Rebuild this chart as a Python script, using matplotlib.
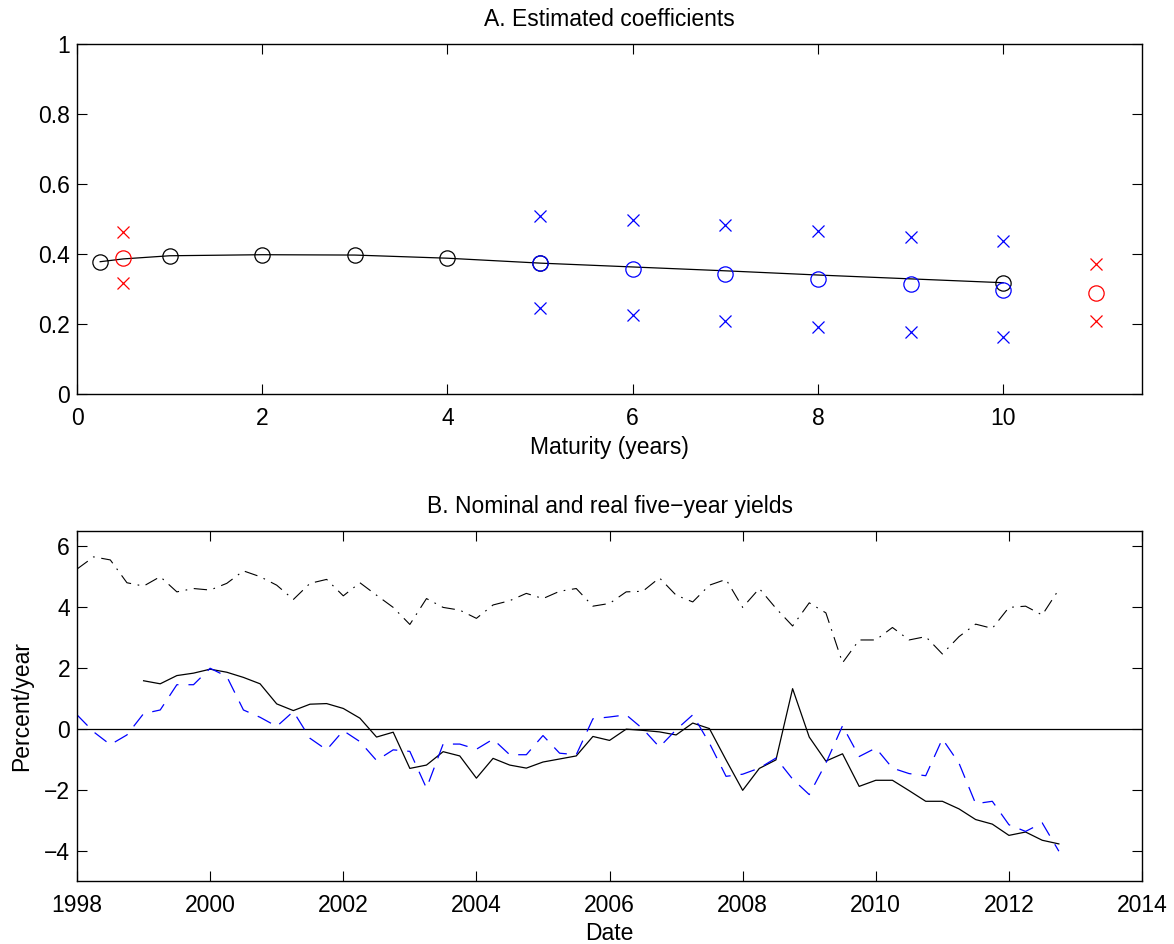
import numpy as np
import matplotlib
matplotlib.use("Agg")
import matplotlib.pyplot as plt

plt.rcParams['font.family'] = ['Liberation Sans', 'DejaVu Sans']
plt.rcParams['font.size'] = 16.5
plt.rcParams['axes.linewidth'] = 1.0
plt.rcParams['axes.unicode_minus'] = True

# Panel A: estimated coefficients by maturity
fit_maturity = [0.25, 0.5, 1, 2, 3, 4, 5, 6, 7, 8, 9, 10]
fit_coef = [0.378, 0.386, 0.395, 0.398, 0.397, 0.388, 0.374, 0.363, 0.352, 0.340, 0.329, 0.318]

black_maturity = [0.25, 1, 2, 3, 4, 5, 10]
black_coef = [0.378, 0.395, 0.398, 0.397, 0.388, 0.374, 0.317]

blue_maturity = [5, 6, 7, 8, 9, 10]
blue_coef = [0.374, 0.357, 0.343, 0.329, 0.314, 0.297]
blue_upper = [0.509, 0.497, 0.483, 0.466, 0.449, 0.437]
blue_lower = [0.246, 0.226, 0.209, 0.191, 0.177, 0.163]

red_maturity = [0.5, 11]
red_coef = [0.389, 0.289]
red_upper = [0.463, 0.371]
red_lower = [0.317, 0.209]

# Panel B: quarterly yields, percent/year
nominal_start = 1998.0
nominal = [5.25, 5.65, 5.55, 4.80,
           4.69, 5.00, 4.50, 4.61,
           4.56, 4.78, 5.19, 5.00,
           4.72, 4.25, 4.78, 4.91,
           4.37, 4.80, 4.39, 3.99,
           3.43, 4.28, 3.99, 3.90,
           3.63, 4.07, 4.21, 4.45,
           4.28, 4.52, 4.61, 4.03,
           4.12, 4.50, 4.52, 4.96,
           4.39, 4.17, 4.72, 4.91,
           3.99, 4.61, 3.96, 3.38,
           4.14, 3.81, 2.17, 2.92,
           2.92, 3.33, 2.92, 3.03,
           2.46, 3.03, 3.44, 3.30,
           3.99, 4.03, 3.74, 4.58]

real_start = 1999.0
real = [1.58, 1.48, 1.75, 1.83,
        1.96, 1.86, 1.69, 1.48,
        0.82, 0.60, 0.81, 0.83,
        0.67, 0.35, -0.27, -0.11,
        -1.30, -1.19, -0.75, -0.89,
        -1.62, -0.97, -1.19, -1.29,
        -1.09, -0.99, -0.89, -0.25,
        -0.38, -0.01, -0.05, -0.10,
        -0.20, 0.19, 0.01, -1.02,
        -2.02, -1.30, -1.02, 1.32,
        -0.27, -1.06, -0.82, -1.89,
        -1.69, -1.69, -2.03, -2.38,
        -2.38, -2.63, -2.98, -3.13,
        -3.50, -3.39, -3.66, -3.78]

implied_start = 1998.0
implied = [0.46, -0.10, -0.52, -0.20,
           0.50, 0.62, 1.45, 1.45,
           1.99, 1.72, 0.62, 0.38,
           0.08, 0.57, -0.31, -0.69,
           -0.06, -0.42, -1.04, -0.69,
           -0.74, -1.95, -0.50, -0.50,
           -0.67, -0.34, -0.85, -0.85,
           -0.22, -0.80, -0.85, 0.33,
           0.39, 0.46, 0.00, -0.60,
           -0.03, 0.46, -0.47, -1.56,
           -1.49, -1.29, -0.96, -1.65,
           -2.16, -1.13, 0.10, -0.91,
           -0.63, -1.29, -1.47, -1.54,
           -0.33, -1.13, -2.46, -2.38,
           -3.15, -3.37, -3.09, -4.02]


def quarters(start, n):
    return start + np.arange(n) / 4.0


def matlab_axes(ax):
    ax.tick_params(direction='in', length=7, width=0.8, top=True, right=True,
                   labelsize=16.5)
    ax.tick_params(axis='x', pad=9)
    ax.tick_params(axis='y', pad=5)


fig = plt.figure(figsize=(11.74, 9.44), dpi=100)
ax1 = fig.add_axes([0.0656, 0.5826, 0.9072, 0.3708])
ax2 = fig.add_axes([0.0656, 0.0667, 0.9072, 0.3708])

# --- Panel A
ax1.plot(fit_maturity, fit_coef, color='black', lw=0.9)
ax1.plot(black_maturity, black_coef, 'o', mfc='none', mec='black', ms=11, mew=0.9)
ax1.plot(blue_maturity, blue_coef, 'o', mfc='none', mec='blue', ms=11, mew=0.9)
ax1.plot(blue_maturity, blue_upper, 'x', color='blue', ms=8, mew=0.9)
ax1.plot(blue_maturity, blue_lower, 'x', color='blue', ms=8, mew=0.9)
ax1.plot(red_maturity, red_coef, 'o', mfc='none', mec='red', ms=11, mew=0.9)
ax1.plot(red_maturity, red_upper, 'x', color='red', ms=8, mew=0.9)
ax1.plot(red_maturity, red_lower, 'x', color='red', ms=8, mew=0.9)
ax1.set_xlim(0, 11.5)
ax1.set_ylim(0, 1)
ax1.set_xticks(np.arange(0, 11, 2))
ax1.set_yticks(np.arange(0, 1.01, 0.2))
ax1.set_yticklabels(['0', '0.2', '0.4', '0.6', '0.8', '1'])
ax1.set_xlabel('Maturity (years)', fontsize=16.5, labelpad=5)
ax1.set_title('A. Estimated coefficients', fontsize=16.5, pad=13)
matlab_axes(ax1)

# --- Panel B
ax2.axhline(0, color='black', lw=0.9)
ax2.plot(quarters(nominal_start, len(nominal)), nominal, color='black', lw=0.8,
         linestyle=(0, (12, 6, 1.5, 6)))
ax2.plot(quarters(real_start, len(real)), real, color='black', lw=0.9)
ax2.plot(quarters(implied_start, len(implied)), implied, color='blue', lw=0.9,
         linestyle=(0, (12, 8)))
ax2.set_xlim(1998, 2014)
ax2.set_ylim(-5, 6.5)
ax2.set_xticks(np.arange(1998, 2015, 2))
ax2.set_yticks(np.arange(-4, 7, 2))
ax2.set_xlabel('Date', fontsize=16.5, labelpad=4)
ax2.set_ylabel('Percent/year', fontsize=16.5, labelpad=8)
ax2.set_title('B. Nominal and real five\u2212year yields', fontsize=16.5, pad=13)
matlab_axes(ax2)

fig.savefig('out.png', dpi=100)
